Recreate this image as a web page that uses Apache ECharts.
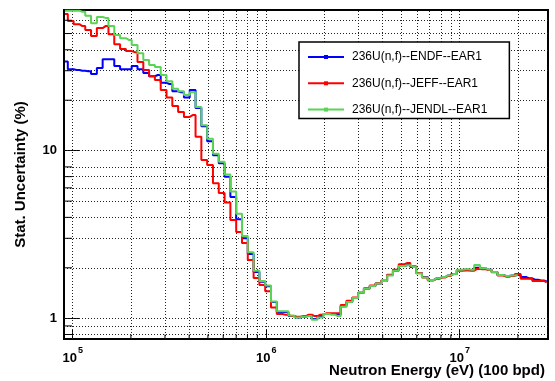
<!DOCTYPE html>
<html><head><meta charset="utf-8">
<script src="https://cdn.jsdelivr.net/npm/echarts@6/dist/echarts.min.js"></script>
<style>html,body{margin:0;padding:0;background:#fff}#c{width:555px;height:381px}</style>
</head><body><div id="c"></div>
<script>
// Bin centres (eV)
const energy = [91200,97700,104700,112200,120200,128800,138000,147900,158500,169800,
182000,195000,208900,223900,239900,257000,275400,295100,316200,338800,
363100,389000,416900,446700,478600,512900,549500,588800,631000,676100,
724400,776200,831800,891300,955000,1023000,1096000,1175000,1259000,1349000,
1445000,1549000,1660000,1778000,1905000,2042000,2188000,2344000,2512000,2692000,
2884000,3090000,3311000,3548000,3802000,4074000,4365000,4677000,5012000,5370000,
5754000,6166000,6607000,7079000,7586000,8128000,8710000,9333000,10000000,10720000,
11480000,12300000,13180000,14130000,15140000,16220000,17380000,18620000,19950000,21380000,
22910000,24550000,26300000,28180000];

const endf = [34.0,30.6,30.3,30.0,29.8,28.7,31.1,35.1,35.1,32.0,
30.6,30.6,32.0,30.6,29.1,27.8,28.3,25.4,25.0,22.6,
22.3,20.8,23.0,18.0,14.0,11.4,9.4,8.4,7.0,5.3,
3.9,3.0,2.42,1.89,1.65,1.55,1.25,1.09,1.09,1.03,
1.01,1.02,1.04,0.99,1.03,1.06,1.06,1.05,1.18,1.25,
1.32,1.42,1.50,1.56,1.61,1.67,1.81,1.92,2.05,2.08,
2.02,1.86,1.76,1.69,1.73,1.76,1.80,1.84,1.94,1.95,
1.94,2.00,1.98,1.95,1.89,1.81,1.79,1.80,1.81,1.76,
1.73,1.70,1.68,1.66];

const jeff = [65.5,59.5,56.9,55.4,52.5,48.3,53.9,55.4,49.6,43.2,
40.4,39.3,38.7,33.8,30.3,27.8,26.4,23.0,20.8,18.5,
17.0,15.9,16.3,12.1,8.8,8.2,6.4,5.6,4.9,3.86,
3.27,2.81,2.23,1.74,1.58,1.45,1.16,1.06,1.05,1.03,
1.02,1.03,1.05,1.03,1.05,1.07,1.07,1.07,1.20,1.27,
1.33,1.42,1.51,1.57,1.62,1.68,1.82,1.95,2.10,2.14,
2.04,1.86,1.75,1.68,1.72,1.75,1.79,1.84,1.92,1.93,
1.92,1.97,1.96,1.94,1.88,1.80,1.77,1.79,1.84,1.72,
1.72,1.67,1.67,1.64];

const jendl = [68.5,68.5,68.5,67.5,63.8,57.5,62.8,62.0,55.4,49.0,
46.9,45.8,42.7,38.2,34.8,32.5,31.6,28.3,26.0,23.4,
22.6,21.5,22.3,18.2,14.2,11.8,9.6,8.6,7.2,5.7,
4.2,3.1,2.48,1.92,1.67,1.57,1.26,1.10,1.10,1.04,
1.01,1.02,1.03,0.98,1.01,1.06,1.05,1.03,1.17,1.25,
1.32,1.42,1.50,1.56,1.61,1.67,1.80,1.92,2.05,2.07,
2.02,1.85,1.75,1.69,1.73,1.76,1.80,1.84,1.95,1.96,
1.95,2.08,1.99,1.95,1.89,1.81,1.79,1.80,1.81];

const seriesNames = ['236U(n,f)--ENDF--EAR1','236U(n,f)--JEFF--EAR1','236U(n,f)--JENDL--EAR1'];
const seriesColors = ['#0000ff','#ff0000','#59d454'];

const xRange = [90200, 28600000];
const yRange = [0.752, 69.1];
const xGridValues = [1e5,2e5,3e5,4e5,5e5,6e5,7e5,8e5,9e5,1e6,2e6,3e6,4e6,5e6,6e6,7e6,8e6,9e6,1e7,2e7];
const yGridValues = [0.8,0.9,1,2,3,4,5,6,7,8,10,20,30,40,50,60];
const xMinorTicks = xGridValues.filter(v => Math.abs(Math.log10(v) - Math.round(Math.log10(v))) > 1e-6);
const yMinorTicks = yGridValues.filter(v => Math.abs(Math.log10(v) - Math.round(Math.log10(v))) > 1e-6);

const FONT = "'Liberation Sans', Arial, Helvetica, sans-serif";
const chart = echarts.init(document.getElementById('c'), null, {renderer: 'canvas'});
const pair = vals => vals.map((v, i) => [energy[i], v]);

const gridLineData = [].concat(
  xGridValues.map(v => ({xAxis: v})),
  yGridValues.map(v => ({yAxis: v}))
);

const lineSeries = (i, vals) => ({
  name: seriesNames[i], type: 'line', step: 'middle', data: pair(vals),
  showSymbol: false, symbol: 'rect', color: seriesColors[i],
  lineStyle: {width: 2, color: seriesColors[i]}, itemStyle: {color: seriesColors[i]}, z: 2
});

const option = {
  animation: false,
  backgroundColor: '#fff',
  grid: {left: 64, right: 7, top: 10, bottom: 42, show: true, borderColor: '#000', borderWidth: 2,
         backgroundColor: 'transparent', containLabel: false, outerBoundsMode: 'none'},
  legend: {
    data: seriesNames, orient: 'vertical', left: 299, top: 42,
    padding: [9, 22, 3, 8], itemGap: 14.3, itemWidth: 36, itemHeight: 5,
    borderColor: '#000', borderWidth: 1.5, backgroundColor: '#fff', borderRadius: 0,
    textStyle: {fontSize: 12, fontFamily: FONT, color: '#000', padding: [0, 0, 0, 3]}
  },
  xAxis: {
    type: 'log', logBase: 10, min: xRange[0], max: xRange[1],
    name: 'Neutron Energy (eV) (100 bpd)', nameLocation: 'middle', nameGap: 24,
    nameMoveOverlap: false,
    nameTextStyle: {fontSize: 15, fontWeight: 'bold', fontFamily: FONT, color: '#000',
                    padding: [0, 0, 0, 262]},
    axisLine: {show: true, lineStyle: {color: '#000', width: 2}},
    axisTick: {show: true, inside: true, length: 9, lineStyle: {color: '#000', width: 1}},
    splitLine: {show: false},
    axisLabel: {
      margin: 6, showMinLabel: false, showMaxLabel: false,
      formatter: v => '{b|10}{s|' + Math.round(Math.log10(v)) + '}',
      rich: {
        b: {fontSize: 13, fontWeight: 'bold', fontFamily: FONT, color: '#000', lineHeight: 20, verticalAlign: 'bottom'},
        s: {fontSize: 9, fontWeight: 'bold', fontFamily: FONT, color: '#000', lineHeight: 10, verticalAlign: 'top', padding: [1, 0, 0, 1]}
      }
    }
  },
  yAxis: {
    type: 'log', logBase: 10, min: yRange[0], max: yRange[1],
    name: 'Stat. Uncertainty (%)', nameLocation: 'middle', nameGap: 36,
    nameMoveOverlap: false,
    nameTextStyle: {fontSize: 15, fontWeight: 'bold', fontFamily: FONT, color: '#000'},
    axisLine: {show: true, lineStyle: {color: '#000', width: 2}},
    axisTick: {show: true, inside: true, length: 15, lineStyle: {color: '#000', width: 1}},
    splitLine: {show: false},
    axisLabel: {
      margin: 7, showMinLabel: false, showMaxLabel: false,
      fontSize: 13, fontWeight: 'bold', fontFamily: FONT, color: '#000',
      formatter: v => String(Math.round(v))
    }
  },
  series: [
    {
      name: 'grid', type: 'line', data: [], silent: true,
      markLine: {silent: true, symbol: 'none', z: 1, animation: false,
        label: {show: false},
        lineStyle: {color: '#222', width: 1, type: [1, 2]},
        emphasis: {disabled: true},
        data: gridLineData}
    },
    lineSeries(0, endf),
    lineSeries(1, jeff),
    lineSeries(2, jendl)
  ]
};
chart.setOption(option);

// minor ticks, positioned through the axes' own scales
const x0 = chart.convertToPixel({xAxisIndex: 0}, xRange[0]);
const yBottom = chart.convertToPixel({yAxisIndex: 0}, yRange[0]);
const tickGraphics = [];
xMinorTicks.forEach(v => {
  const px = chart.convertToPixel({xAxisIndex: 0}, v);
  tickGraphics.push({type: 'line', silent: true, z: 3,
    shape: {x1: px, y1: yBottom, x2: px, y2: yBottom - 4.5}, style: {stroke: '#000', lineWidth: 1}});
});
yMinorTicks.forEach(v => {
  const py = chart.convertToPixel({yAxisIndex: 0}, v);
  tickGraphics.push({type: 'line', silent: true, z: 3,
    shape: {x1: x0, y1: py, x2: x0 + 8, y2: py}, style: {stroke: '#000', lineWidth: 1}});
});
chart.setOption({graphic: tickGraphics});
</script>
</body></html>
